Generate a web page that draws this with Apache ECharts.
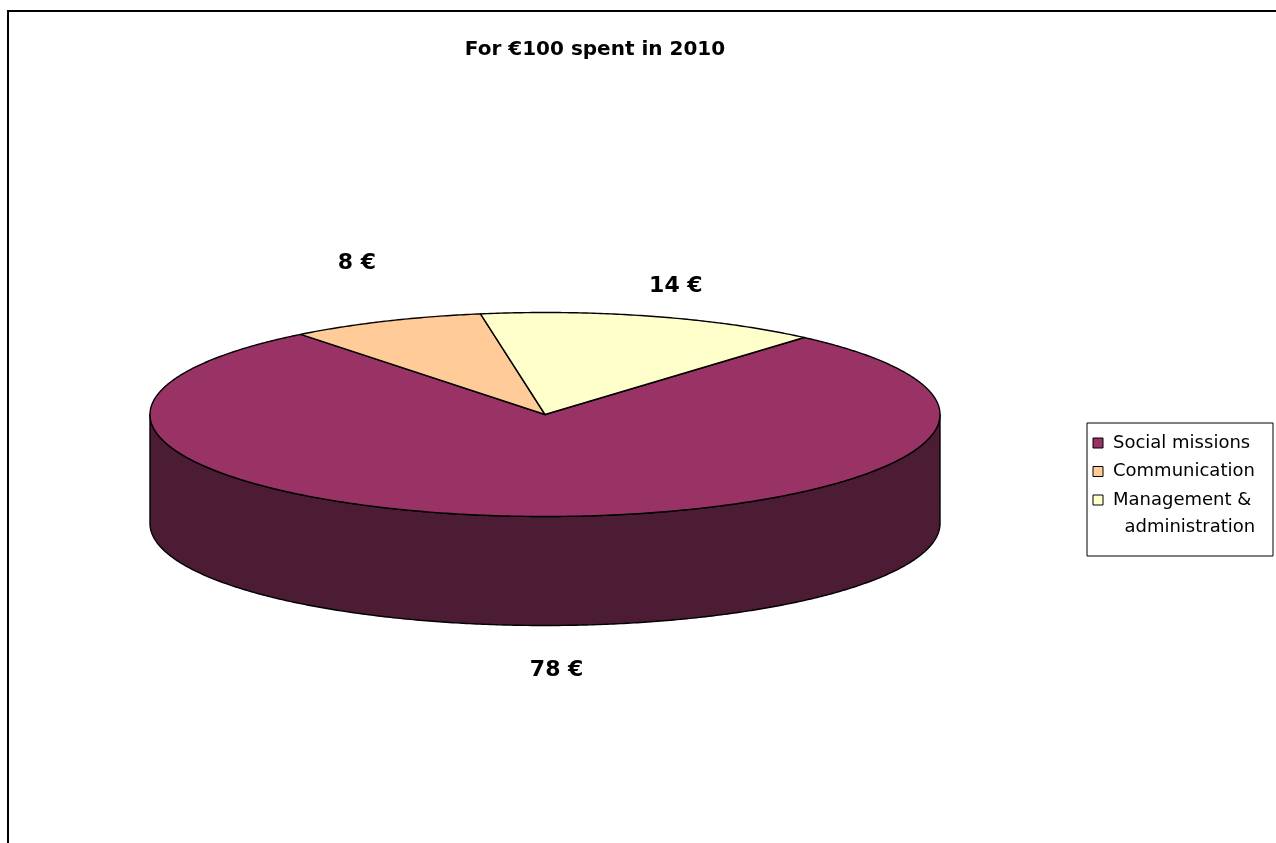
<!DOCTYPE html>
<html><head><meta charset="utf-8">
<script src="https://cdn.jsdelivr.net/npm/echarts@6/dist/echarts.min.js"></script>
<style>html,body{margin:0;padding:0;background:#fff}#c{width:1276px;height:843px}</style>
</head><body><div id="c"></div>
<script>
// ---- data ----
const categories = ['Social missions', 'Communication', 'Management & administration'];
const values = [78, 8, 14];
const legendLabels = ['Social missions', 'Communication', 'Management &\n  administration'];
const titleText = 'For €100 spent in 2010';
const valueSuffix = ' €';

// ---- styles / layout ----
const colors = ['#993366', '#FFCC99', '#FFFFCC'];
const sideColors = ['#4C1B34', '#7F6650', '#7F7F66'];
const geo = { cx: 545, cy: 414.5, rx: 395, ry: 102, depth: 109, startAngle: 49 };
const labelGeo = { rx: 466, ry: 150 };
const labelNudge = [[23, -3], [0, -14], [4, 16]];
const legendBox = { x: 1087, y: 423, w: 186, h: 133, firstRow: 20, rowPitch: 28.5, lineHeight: 27, iconX: 6, textX: 26 };
const FONT = 'DejaVu Sans';

function pt(tDeg, dy) {
  const t = tDeg * Math.PI / 180;
  return [geo.cx + geo.rx * Math.cos(t), geo.cy - geo.ry * Math.sin(t) + (dy || 0)];
}
function arc(a0, a1, dy) {
  const n = Math.max(2, Math.ceil(Math.abs(a1 - a0) * 2));
  const pts = [];
  for (let k = 0; k <= n; k++) pts.push(pt(a0 + (a1 - a0) * k / n, dy));
  return pts;
}

function renderItem(params, api) {
  const i = params.seriesIndex;
  const v = api.value(0);
  const total = values.reduce((a, b) => a + b, 0);
  let before = 0;
  for (let j = 0; j < i; j++) before += values[j];
  const a0 = geo.startAngle - before / total * 360;
  const a1 = a0 - v / total * 360;
  const children = [];
  for (let k = -2; k <= 1; k++) {
    const lo = -180 + 360 * k, hi = 360 * k;
    const s = Math.max(lo, a1), e = Math.min(hi, a0);
    if (e > s) {
      const top = arc(s, e, 0);
      const bot = arc(e, s, geo.depth);
      children.push({
        type: 'polygon', shape: { points: top.concat(bot) },
        style: { fill: sideColors[i], stroke: '#000', lineWidth: 1.4, lineJoin: 'round' }
      });
    }
  }
  children.push({
    type: 'polygon', shape: { points: [[geo.cx, geo.cy]].concat(arc(a0, a1, 0)) },
    style: { fill: api.visual('color'), stroke: '#000', lineWidth: 1.4, lineJoin: 'round' }
  });
  const m = (a0 + a1) / 2 * Math.PI / 180;
  const lx = geo.cx + labelGeo.rx * Math.cos(m) + labelNudge[i][0];
  const ly = geo.cy - labelGeo.ry * Math.sin(m) + (Math.sin(m) < 0 ? geo.depth : 0) + labelNudge[i][1];
  children.push({
    type: 'text', x: lx, y: ly,
    style: { text: v + valueSuffix, fill: '#000', font: 'bold 22px "' + FONT + '"', align: 'center', verticalAlign: 'middle' }
  });
  return { type: 'group', children };
}

// legend box (drawn as graphic so the two-line entry aligns like the original)
const legendChildren = [{
  type: 'rect', shape: { x: 0, y: 0, width: legendBox.w, height: legendBox.h },
  style: { fill: '#fff', stroke: '#000', lineWidth: 1 }
}];
categories.forEach((name, i) => {
  const cyRow = legendBox.firstRow + i * legendBox.rowPitch;
  legendChildren.push({
    type: 'rect', shape: { x: legendBox.iconX, y: cyRow - 5, width: 10, height: 10 },
    style: { fill: colors[i], stroke: '#000', lineWidth: 1 }
  });
  legendChildren.push({
    type: 'text', x: legendBox.textX, y: cyRow - legendBox.lineHeight / 2,
    style: { text: legendLabels[i], fill: '#000', font: '18px "' + FONT + '"', lineHeight: legendBox.lineHeight, verticalAlign: 'top', align: 'left' }
  });
});

const chart = echarts.init(document.getElementById('c'), null, { renderer: 'canvas' });
chart.setOption({
  animation: false,
  backgroundColor: '#fff',
  title: {
    text: titleText, left: 595, textAlign: 'center', top: 40, padding: 0,
    textStyle: { fontFamily: FONT, fontSize: 20, fontWeight: 'bold', color: '#000' }
  },
  graphic: [{
    type: 'rect', silent: true, z: -10,
    shape: { x: 8, y: 11, width: 1400, height: 1000 },
    style: { fill: null, stroke: '#000', lineWidth: 2 }
  }, {
    type: 'group', x: legendBox.x, y: legendBox.y, silent: true,
    children: legendChildren
  }],
  series: categories.map((name, i) => ({
    type: 'custom', name: name, coordinateSystem: 'none',
    itemStyle: { color: colors[i] },
    renderItem: renderItem,
    data: [[values[i]]]
  }))
});
</script>
</body></html>
